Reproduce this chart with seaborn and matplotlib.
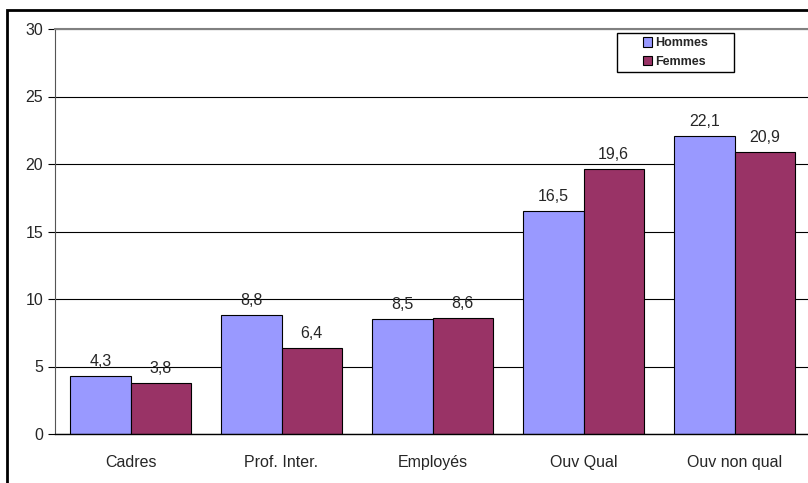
import matplotlib
matplotlib.use("Agg")
import matplotlib.pyplot as plt
import seaborn as sns
import pandas as pd
from matplotlib.patches import Rectangle

categories = ["Cadres", "Prof. Inter.", "Employés", "Ouv Qual", "Ouv non qual"]
hommes = [4.3, 8.8, 8.5, 16.5, 22.1]
femmes = [3.8, 6.4, 8.6, 19.6, 20.9]
series = ["Hommes", "Femmes"]
colors = ["#9999FF", "#993366"]
yticks = [0, 5, 10, 15, 20, 25, 30]

df = pd.DataFrame({
    "cat": categories * 2,
    "val": hommes + femmes,
    "sexe": [series[0]] * len(categories) + [series[1]] * len(categories),
})

sns.set_style("white")
plt.rcParams["font.family"] = ["Liberation Sans", "DejaVu Sans"]

FS = 11.5
W, H = 808, 483
fig = plt.figure(figsize=(W / 100, H / 100), dpi=100)
left, right, top, bottom = 55, 810, 29, 434
ax = fig.add_axes([left / W, (H - bottom) / H, (right - left) / W, (bottom - top) / H])

sns.barplot(data=df, x="cat", y="val", hue="sexe", palette=colors, width=0.8,
            edgecolor="black", linewidth=0.8, saturation=1, ax=ax, errorbar=None)

for cont in ax.containers:
    ax.bar_label(cont, labels=[f"{v:.1f}".replace(".", ",") for v in cont.datavalues],
                 padding=5, fontsize=FS)

ax.set_ylim(0, 30)
ax.set_xlim(-0.5, 4.5)
ax.set_yticks(yticks)
ax.set_yticklabels([str(t) for t in yticks], fontsize=FS)
ax.yaxis.grid(True, color="black", linewidth=0.8)
ax.set_axisbelow(True)
ax.set_xlabel("")
ax.set_ylabel("")
ax.set_xticks(range(len(categories)))
ax.set_xticklabels(categories, fontsize=FS)
ax.set_xticks([i + 0.5 for i in range(-1, len(categories))], minor=True)
ax.tick_params(axis="x", which="major", length=0, pad=15)
ax.tick_params(axis="x", which="minor", length=5, color="#555555", width=0.8)
ax.tick_params(axis="y", length=5, color="black", width=0.8, pad=3.5, left=True)

for s in ["top", "right"]:
    ax.spines[s].set_color("#808080")
    ax.spines[s].set_linewidth(1.5)
ax.spines["left"].set_color("#555555")
ax.spines["left"].set_linewidth(0.8)
ax.spines["bottom"].set_color("black")
ax.spines["bottom"].set_linewidth(1.0)

# legend frame drawn separately so the entries sit centred in a wider box
lx0, lx1, ly0, ly1 = 617, 734, 33, 72
frame = Rectangle((lx0 / W, 1 - ly1 / H), (lx1 - lx0) / W, (ly1 - ly0) / H,
                  transform=fig.transFigure, facecolor="white", edgecolor="black",
                  linewidth=1.0, zorder=8, clip_on=False)
ax.add_patch(frame)
leg = ax.legend(loc="center", bbox_to_anchor=((lx0 + lx1) / 2 / W, 1 - (ly0 + ly1) / 2 / H),
                bbox_transform=fig.transFigure, frameon=False,
                prop={"weight": "bold", "size": 9}, handlelength=0.75, handleheight=0.75,
                handletextpad=0.25, borderpad=0, labelspacing=0.5)
leg.set_zorder(10)
for h in leg.legend_handles:
    h.set_edgecolor("black")
    h.set_linewidth(0.8)

fig.patches.append(Rectangle((7 / W, -0.1), 1.2, (H - 10) / H + 0.1, transform=fig.transFigure,
                             fill=False, edgecolor="black", linewidth=2, clip_on=False))

fig.savefig("out.png", dpi=100)
